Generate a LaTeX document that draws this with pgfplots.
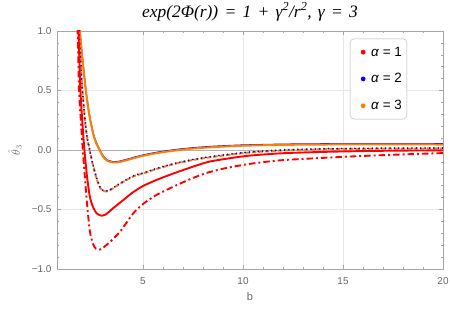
\documentclass[border=0pt]{standalone}
\usepackage{pgfplots}
\pgfplotsset{compat=1.18}
\usepackage{pgfplotstable}
\usepackage{fontspec}
\setmainfont{Liberation Sans}
\newfontfamily\titlefont{Liberation Serif}
\definecolor{mred}{rgb}{1,0,0}
\definecolor{mblue}{rgb}{0,0,1}
\definecolor{morange}{rgb}{1,0.5,0}
\definecolor{tickgray}{gray}{0.4}

\pgfplotstableread{
b y
1.78 1.15
1.84 1.0
1.95 0.80
2.05 0.64
2.14 0.50
2.30 0.31
2.50 0.14
2.65 0.06
2.83 0.0
3.00 -0.055
3.20 -0.09
3.50 -0.105
3.80 -0.102
4.20 -0.085
4.60 -0.066
5.00 -0.049
5.50 -0.032
6.00 -0.018
6.80 0.000
7.50 0.012
8.50 0.024
10.0 0.036
12.0 0.043
14.0 0.046
16.0 0.047
18.0 0.047
20.0 0.046
}\orangesolid

\pgfplotstableread{
b y
1.785 1.15
1.845 1.0
1.955 0.80
2.055 0.64
2.145 0.50
2.305 0.31
2.505 0.145
2.655 0.066
2.83 0.006
3.00 -0.049
3.20 -0.084
3.50 -0.099
3.80 -0.096
4.20 -0.079
4.60 -0.060
5.00 -0.043
5.50 -0.026
6.00 -0.012
6.80 0.006
7.50 0.018
8.50 0.030
10.0 0.041
12.0 0.048
14.0 0.051
16.0 0.052
18.0 0.052
20.0 0.051
}\bluesolid

\pgfplotstableread{
b y
1.76 1.15
1.80 1.0
1.88 0.75
1.97 0.50
2.10 0.25
2.20 0.11
2.33 0.0
2.50 -0.13
2.70 -0.25
2.85 -0.315
3.00 -0.344
3.15 -0.349
3.35 -0.338
3.70 -0.300
4.20 -0.250
4.60 -0.216
5.03 -0.196
5.37 -0.176
6.00 -0.143
6.70 -0.112
7.50 -0.084
8.31 -0.062
9.20 -0.042
10.4 -0.020
12.0 -0.004
14.0 0.006
16.0 0.010
18.0 0.012
20.0 0.013
}\orangedashed

\pgfplotstableread{
b y
1.76 1.15
1.80 1.0
1.88 0.75
1.97 0.50
2.10 0.25
2.20 0.114
2.33 0.004
2.50 -0.126
2.70 -0.246
2.85 -0.311
3.00 -0.340
3.15 -0.345
3.35 -0.334
3.70 -0.296
4.20 -0.246
4.60 -0.212
5.03 -0.192
5.37 -0.172
6.00 -0.139
6.70 -0.108
7.50 -0.080
8.31 -0.058
9.20 -0.038
10.4 -0.016
12.0 0.000
14.0 0.010
16.0 0.014
18.0 0.016
20.0 0.017
}\bluedotted

\pgfplotstableread{
b y
1.73 1.15
1.77 1.0
1.82 0.75
1.87 0.50
1.96 0.25
2.07 0.0
2.20 -0.22
2.34 -0.39
2.50 -0.48
2.70 -0.535
2.93 -0.552
3.15 -0.540
3.50 -0.490
4.02 -0.420
4.50 -0.355
5.03 -0.300
5.70 -0.250
6.54 -0.196
7.50 -0.140
8.31 -0.098
9.50 -0.065
10.4 -0.046
12.0 -0.027
14.0 -0.016
16.0 -0.009
18.0 -0.005
20.0 -0.003
}\redsolid

\pgfplotstableread{
b y
1.70 1.15
1.73 1.0
1.77 0.75
1.80 0.50
1.89 0.25
1.99 0.0
2.10 -0.24
2.20 -0.45
2.34 -0.68
2.50 -0.79
2.65 -0.83
2.85 -0.836
3.05 -0.815
3.40 -0.765
3.86 -0.685
4.20 -0.605
4.53 -0.528
5.03 -0.450
5.70 -0.375
6.70 -0.294
7.50 -0.235
8.23 -0.190
9.20 -0.150
10.4 -0.115
12.0 -0.085
15.2 -0.056
17.5 -0.040
20.0 -0.026
}\reddashdot

\newcommand{\tsp}{\hspace{0.36em}}
\begin{document}
\begin{tikzpicture}
\path[use as bounding box] (-57bp,-47bp) rectangle (393bp,269bp);
\begin{axis}[
  scale only axis,
  width=386bp, height=238bp,
  at={(0,0)}, anchor=south west,
  xmin=0.7, xmax=20, ymin=-1, ymax=1,
  xtick={5,10,15,20},
  ytick={-1,-0.5,0,0.5,1},
  yticklabels={−1.0,−0.5,0.0,0.5,1.0},
  minor x tick num=4,
  minor y tick num=4,
  tick align=inside,
  major tick length=4bp,
  minor tick length=2.2bp,
  every tick/.style={gray!70, line width=0.5pt},
  axis line style={gray!70, line width=0.6pt},
  grid=major,
  major grid style={gray!18, line width=0.6pt},
  tick label style={font=\fontsize{10}{12}\selectfont, text=tickgray},
  /pgf/number format/assume math mode=true,
  xticklabel style={yshift=-5bp},
  yticklabel style={xshift=-2bp},
  title={\titlefont\itshape exp(2Φ(r))\tsp=\tsp1\tsp+\tsp γ\textsuperscript{2}/r\textsuperscript{2},\tsp γ\tsp=\tsp3},
  title style={font=\fontsize{17.5}{19}\selectfont, at={(rel axis cs:0.5,1)}, anchor=base, yshift=8bp},
  xlabel={b},
  xlabel style={font=\fontsize{11}{13}\selectfont, text=tickgray, at={(rel axis cs:0.5,0)}, anchor=center, yshift=-28bp},
  ylabel={$\hat{\theta}_3$},
  ylabel style={font=\fontsize{12}{14}\selectfont, text=tickgray, at={(rel axis cs:0,0.5)}, anchor=center, yshift=42bp},
  legend style={at={(axis description cs:0.759,0.968)}, anchor=north west, draw=gray!60, rounded corners=4pt, fill=white,
    font=\fontsize{13.5}{15}\selectfont, inner xsep=3pt, inner ysep=6pt, row sep=12pt},
  legend cell align=left,
  legend image code/.code={\path[draw=none,fill=none] (0bp,0bp) -- (16bp,0bp); \fill[#1, draw=none] (10bp,0bp) circle (2.4bp);},
  clip=true,
]
\addplot[gray!60, line width=0.6pt, forget plot] coordinates {(0.7,0) (20,0)};
\addplot[mblue, line width=1.4pt, smooth, tension=0.4, forget plot] table {\bluesolid};
\addplot[morange, line width=2.0pt, smooth, tension=0.4, forget plot] table {\orangesolid};
\addplot[morange, line width=2.0pt, smooth, tension=0.4, dash pattern=on 4.5pt off 2pt, forget plot] table {\orangedashed};
\addplot[mblue, line width=2.0pt, smooth, tension=0.4, dash pattern=on 0.01pt off 4.4pt, line cap=round, forget plot] table {\bluedotted};
\addplot[mred, line width=1.9pt, smooth, tension=0.4, forget plot] table {\redsolid};
\addplot[mred, line width=1.9pt, smooth, tension=0.4, dash pattern=on 6.5pt off 3pt on 2pt off 3pt, forget plot] table {\reddashdot};
\addlegendimage{mred}
\addlegendentry{\textit{α} = 1}
\addlegendimage{mblue}
\addlegendentry{\textit{α} = 2}
\addlegendimage{morange}
\addlegendentry{\textit{α} = 3}
\end{axis}
\end{tikzpicture}
\end{document}
